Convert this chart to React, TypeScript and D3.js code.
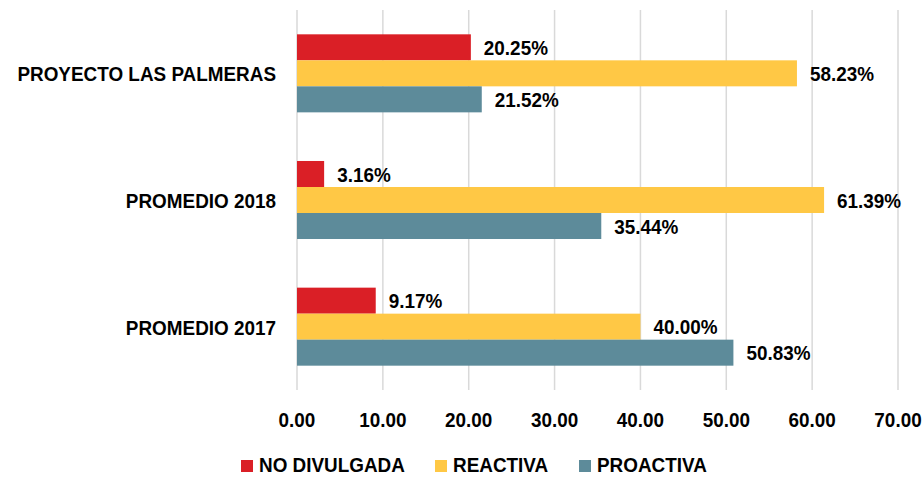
import React from "react";
import * as d3 from "d3";

const categories = ["PROYECTO LAS PALMERAS", "PROMEDIO 2018", "PROMEDIO 2017"];
const seriesNames = ["NO DIVULGADA", "REACTIVA", "PROACTIVA"];
const seriesColors = ["#da1f26", "#ffc845", "#5d8b9a"];
const noDivulgada = [20.25, 3.16, 9.17];
const reactiva = [58.23, 61.39, 40.0];
const proactiva = [21.52, 35.44, 50.83];
const xTicks = [0, 10, 20, 30, 40, 50, 60, 70];

const W = 924;
const H = 477;
const FONT = "'Liberation Sans', Arial, sans-serif";
const SX = 0.9;

function T({ x, y, anchor = "start", dy, children }: { x: number; y: number; anchor?: string; dy?: string; children: React.ReactNode }) {
  return (
    <g transform={`translate(${x},${y}) scale(${SX},1)`}>
      <text x={0} y={0} dy={dy} textAnchor={anchor} fontSize={21} fill="#000">
        {children}
      </text>
    </g>
  );
}

export default function App() {
  const x = d3.scaleLinear().domain([0, 70]).range([297, 898]);
  const y = d3.scaleBand<string>().domain(categories).range([10, 390]).paddingInner(0.384).paddingOuter(0.192);
  const inner = d3.scaleBand<string>().domain(seriesNames).range([0, y.bandwidth()]);
  const values = [noDivulgada, reactiva, proactiva];
  const legendStarts = [241, 435, 579];

  return (
    <svg width={W} height={H} style={{ position: "absolute", left: 0, top: 0, background: "#fff" }} fontFamily={FONT} fontWeight="bold">
      {xTicks.map((t) => (
        <g key={t}>
          <line x1={x(t)} x2={x(t)} y1={10} y2={390} stroke="#d9d9d9" strokeWidth={1.5} />
          <T x={x(t)} y={427} anchor="middle">
            {t.toFixed(2)}
          </T>
        </g>
      ))}
      {categories.map((c, ci) => (
        <g key={c}>
          <T x={276} y={y(c)! + y.bandwidth() / 2} dy="0.38em" anchor="end">
            {c}
          </T>
          {seriesNames.map((s, si) => {
            const v = values[si][ci];
            const yy = y(c)! + inner(s)!;
            return (
              <g key={s}>
                <rect x={x(0)} y={yy} width={x(v) - x(0)} height={inner.bandwidth()} fill={seriesColors[si]} />
                <T x={x(v) + 13} y={yy + inner.bandwidth() / 2} dy="0.36em">
                  {v.toFixed(2) + "%"}
                </T>
              </g>
            );
          })}
        </g>
      ))}
      {seriesNames.map((s, si) => (
        <g key={s}>
          <rect x={legendStarts[si]} y={460} width={12} height={12} fill={seriesColors[si]} />
          <T x={legendStarts[si] + 18} y={472}>
            {s}
          </T>
        </g>
      ))}
    </svg>
  );
}
